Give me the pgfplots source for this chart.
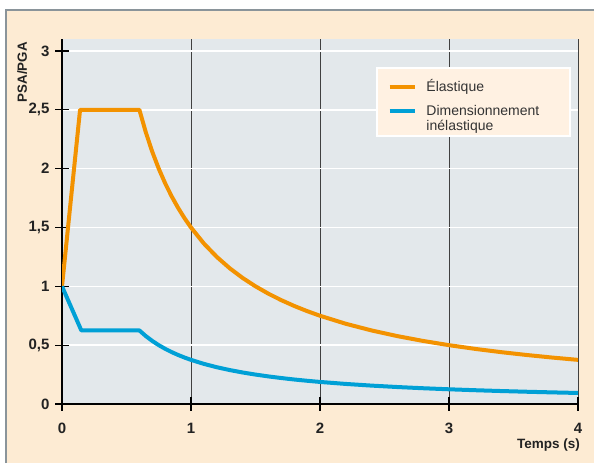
\documentclass[border=0pt]{standalone}
\usepackage{fontspec}
\setmainfont{Liberation Sans}
\usepackage{pgfplots}
\pgfplotsset{compat=1.18}

\definecolor{cream}{HTML}{FDEBD3}
\definecolor{framegray}{HTML}{8A949A}
\definecolor{plotbg}{HTML}{E3E8EB}
\definecolor{legbg}{HTML}{FFF1E2}
\definecolor{elast}{HTML}{F39200}
\definecolor{inelast}{HTML}{00A0D6}
\definecolor{txt}{HTML}{222222}
\definecolor{legtxt}{HTML}{333333}

\begin{document}
\begin{tikzpicture}[x=1pt,y=1pt]
\useasboundingbox (0,0) rectangle (594,463);
\fill[white] (0,0) rectangle (594,463);
\fill[cream] (6,0) rectangle (594,452);
\draw[framegray, line width=2pt] (6,0) -- (6,452.5) -- (594,452.5);

\begin{axis}[
    at={(62pt,59pt)}, anchor=south west,
    scale only axis, width=516pt, height=365pt,
    xmin=0, xmax=4, ymin=0, ymax=3.102,
    axis x line*=bottom, axis y line*=left,
    axis line style={black, line width=1.4pt, -},
    axis background/.style={fill=plotbg},
    xtick={0,1,2,3,4}, xticklabels={0,1,2,3,4},
    ytick={0,0.5,1,1.5,2,2.5,3},
    yticklabels={0,{0,5},1,{1,5},2,{2,5},3},
    /pgf/number format/assume math mode=true,
    tick label style={font=\bfseries\fontsize{15}{17}\selectfont, text=txt},
    xticklabel style={yshift=-9pt},
    yticklabel style={xshift=-2.5pt},
    tick align=center, major tick length=13pt,
    tick style={black, line width=1.2pt},
    xmajorgrids, ymajorgrids,
    x grid style={black!75, line width=1pt},
    y grid style={white, line width=1.6pt},
    legend style={at={(rel axis cs:0.6085,0.923)}, anchor=north west,
        fill=legbg, draw=white, line width=2pt,
        font=\fontsize{14}{15}\selectfont, text=legtxt,
        inner xsep=11pt, inner ysep=1pt, row sep=0pt, column sep=10pt,
        cells={anchor=base west}},
    legend image code/.code={\draw[#1, line width=3.5pt] (0pt,4pt) -- (25pt,4pt);},
]
\addplot[elast, line width=4pt, line join=round] coordinates {
 (0,1) (0.14,2.5) (0.6,2.5) (0.65,2.3077) (0.7,2.1429) (0.75,2.0) (0.8,1.875)
 (0.85,1.7647) (0.9,1.6667) (0.95,1.5789) (1.0,1.5) (1.1,1.3636) (1.2,1.25)
 (1.3,1.1538) (1.4,1.0714) (1.5,1.0) (1.6,0.9375) (1.7,0.8824) (1.8,0.8333)
 (1.9,0.7895) (2.0,0.75) (2.2,0.6818) (2.4,0.625) (2.6,0.5769) (2.8,0.5357)
 (3.0,0.5) (3.2,0.4688) (3.4,0.4412) (3.6,0.4167) (3.8,0.3947) (4.0,0.375)
};
\addlegendentry[inner sep=0pt, text width=133pt, text height=22pt, text depth=3pt]{Élastique}
\addplot[inelast, line width=4pt, line join=round] coordinates {
 (0,1) (0.15,0.625) (0.6,0.625) (0.65,0.5769) (0.7,0.5357) (0.75,0.5) (0.8,0.4688)
 (0.85,0.4412) (0.9,0.4167) (0.95,0.3947) (1.0,0.375) (1.1,0.3409) (1.2,0.3125)
 (1.3,0.2885) (1.4,0.2679) (1.5,0.25) (1.6,0.2344) (1.7,0.2206) (1.8,0.2083)
 (1.9,0.1974) (2.0,0.1875) (2.2,0.1705) (2.4,0.1563) (2.6,0.1442) (2.8,0.1339)
 (3.0,0.125) (3.2,0.1172) (3.4,0.1103) (3.6,0.1042) (3.8,0.0987) (4.0,0.0938)
};
\addlegendentry[inner sep=0pt, text width=133pt, text height=21pt, text depth=3pt]{Dimensionnement}
\addlegendimage{empty legend}
\addlegendentry[inner sep=0pt, text width=133pt, text height=12pt, text depth=5pt]{inélastique}
\end{axis}

\node[anchor=base east, inner sep=0, text=txt, font=\bfseries\fontsize{13.5}{15}\selectfont]
    at (580,15) {Temps (s)};
\node[rotate=90, anchor=base east, inner sep=0, text=txt, font=\bfseries\fontsize{13.3}{16}\selectfont]
    at (27,421) {PSA/PGA};
\end{tikzpicture}
\end{document}
